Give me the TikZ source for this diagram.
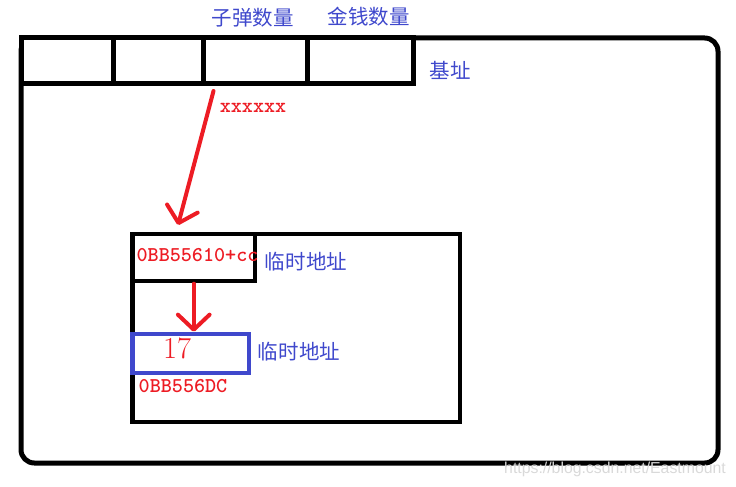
\documentclass[tikz,border=0pt]{standalone}
\usepackage{fontspec}
\usepackage{xcolor}
\usepackage{tikz}
\usetikzlibrary{arrows.meta,positioning,calc}
\newfontfamily\cjk{Noto Sans CJK SC}
\newfontfamily\wmfont{Liberation Sans}
\definecolor{paintred}{RGB}{237,28,36}
\definecolor{paintblue}{RGB}{63,72,204}

\begin{document}
\begin{tikzpicture}[x=0.03cm, y=-0.03cm,
    frame/.style={line width=0.15cm},
    cell/.style={line width=0.15cm, fill=white},
    membox/.style={draw, line width=0.135cm, inner sep=0pt, outer sep=0pt, anchor=north west},
    ptr/.style={paintred, line width=0.12cm, line cap=round,
        -{Straight Barb[length=0.45cm, width=0.95cm, line cap=round, line join=round]}},
    cnlabel/.style={text=paintblue, font=\cjk\fontsize{17.5}{20}\selectfont, inner sep=0pt},
    redtt/.style={text=paintred, font=\ttfamily\bfseries\fontsize{18}{20}\selectfont, inner sep=0pt}]
        \useasboundingbox (0,0) rectangle (736,487);

        % Outer frame and base row
        \draw[frame, rounded corners=0.4cm] (21,38) rectangle (718,463);
        \foreach \a/\b in {21/113,113/203,203/307.5,307.5/413.5} {
            \draw[cell] (\a,38) rectangle (\b,84);
        }
        \node[cnlabel] (ammo) at (252.5,18) {子弹数量};
        \node[cnlabel] (money) at (368.5,17) {金钱数量};
        \node[cnlabel] (base) at (450,70) {基址};

        % Pointer into the heap block
        \node[membox, minimum width=9.825cm, minimum height=5.64cm] (block) at (132.5,234) {};
        \node[membox, minimum width=3.675cm, minimum height=1.41cm] (addr) at (132.5,234) {};
        \node[membox, draw=paintblue, minimum width=3.495cm, minimum height=1.17cm] (val) at (132.5,334) {};

        \coordinate (ptrstart) at (213.5,91);
        \coordinate (ptrend) at (178,225);
        \draw[ptr] (ptrstart) -- (ptrend);
        \node[redtt] (offset) at (253,108) {xxxxxx};

        \node[redtt] (addrtxt) at (197.5,255.5) {0BB55610+cc};
        \node[cnlabel] (tmp1) at (306,262) {临时地址};
        \draw[ptr, shorten <=0.08cm] (addr.south) -- ([yshift=0.07cm]addr.south |- val.north);

        \node[text=paintred, font=\fontsize{26}{28}\selectfont, inner sep=0pt] (count) at (177,348.5) {17};
        \node[cnlabel] (tmp2) at (299,352) {临时地址};
        \node[redtt] (valaddr) at (183,386) {0BB556DC};

        \node[text=gray!30, font=\wmfont\fontsize{13.5}{15}\selectfont, inner sep=0pt] (mark) at (615,469) {https://blog.csdn.net/Eastmount};
    \end{tikzpicture}
\end{document}
